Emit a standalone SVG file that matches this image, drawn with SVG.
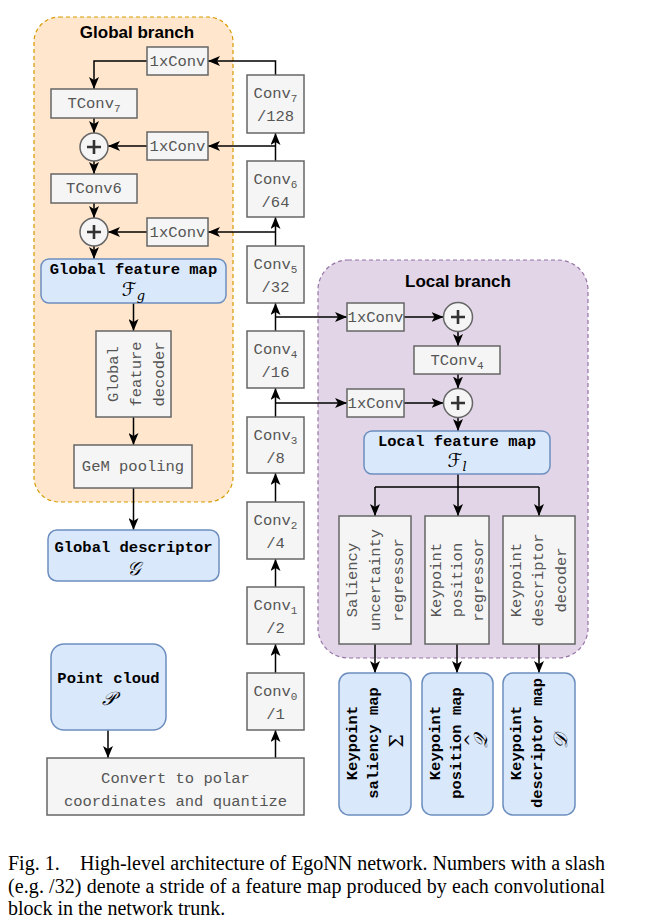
<svg xmlns="http://www.w3.org/2000/svg" width="647" height="924" viewBox="0 0 647 924">
<defs>
<marker id="a" viewBox="0 0 12 10" refX="12" refY="5" markerWidth="12" markerHeight="10" orient="auto" markerUnits="userSpaceOnUse"><path d="M0,0 L12,5 L0,10 L3,5 z" fill="#000"/></marker>
<style>
.g{fill:#f5f5f5;stroke:#666;stroke-width:1.5}
.b{fill:#dae8fc;stroke:#6c8ebf;stroke-width:1.5}
.m{font-family:"Liberation Mono",monospace;font-size:15.5px;fill:#555;text-anchor:middle}
.mb{font-family:"Liberation Mono",monospace;font-size:15.5px;font-weight:bold;fill:#000;text-anchor:middle}
.math{font-family:"DejaVu Serif","DejaVu Sans","Liberation Serif",serif;font-style:italic;font-size:19px;fill:#000;text-anchor:middle}
.t{font-family:"Liberation Sans",Arial,sans-serif;font-size:17px;font-weight:bold;fill:#000;text-anchor:middle}
.e{stroke:#000;stroke-width:1.5;fill:none;marker-end:url(#a)}
.l{stroke:#000;stroke-width:1.5;fill:none}
.p{stroke:#333;stroke-width:2.6;fill:none}
.cap{font-family:"Liberation Serif","Times New Roman",serif;font-size:20px;fill:#000}
</style>
</defs>

<g id="global-branch">
<rect x="34" y="17" width="199" height="485" rx="25" fill="#ffe6cc" stroke="#d79b00" stroke-width="1.2" stroke-dasharray="4 3"/>
<text class="t" x="137" y="38">Global branch</text>
</g>
<g id="local-branch">
<rect x="318" y="260" width="270" height="398" rx="30" fill="#e1d5e7" stroke="#9673a6" stroke-width="1.2" stroke-dasharray="4 3"/>
<text class="t" x="458" y="287">Local branch</text>
</g>

<g id="connectors">
<path class="e" d="M275.5,758 V730"/>
<path class="e" d="M275.5,673 V644"/>
<path class="e" d="M275.5,587 V559"/>
<path class="e" d="M275.5,502 V473"/>
<path class="e" d="M275.5,417 V388"/>
<path class="e" d="M275.5,331 V303"/>
<path class="e" d="M275.5,246 V217"/>
<path class="e" d="M275.5,161 V133"/>
<path class="e" d="M275.5,75 V61 H208"/>
<path class="e" d="M147,61 H94 V89"/>
<path class="e" d="M275.5,146 H208"/>
<path class="e" d="M275.5,232 H208"/>
<path class="e" d="M147,146 H108"/>
<path class="e" d="M147,232 H108"/>
<path class="e" d="M94,118 V133"/>
<path class="e" d="M94,161 V174"/>
<path class="e" d="M94,203 V218"/>
<path class="e" d="M94,246 V259"/>
<path class="e" d="M133.5,303 V331"/>
<path class="e" d="M133.5,417 V445"/>
<path class="e" d="M133.5,488 V530"/>
<path class="e" d="M275.5,317 H347"/>
<path class="e" d="M275.5,403 H347"/>
<path class="e" d="M404,317 H443.5"/>
<path class="e" d="M404,403 H443.5"/>
<path class="e" d="M458,331.5 V346"/>
<path class="e" d="M458,374 V388.5"/>
<path class="e" d="M458,417.5 V431"/>
<path class="e" d="M458,474 V516"/>
<path class="l" d="M375,487 H539"/>
<path class="e" d="M375,487 V516"/>
<path class="e" d="M539,487 V516"/>
<path class="e" d="M375,644 V673"/>
<path class="e" d="M457,644 V673"/>
<path class="e" d="M539,644 V673"/>
<path class="e" d="M108,730 V758"/>
</g>

<g id="gconv1x-a"><rect class="g" x="147" y="47" width="61" height="28"/><text class="m" x="177.5" y="66">1xConv</text></g>
<g id="gconv1x-b"><rect class="g" x="147" y="132" width="61" height="28"/><text class="m" x="177.5" y="151">1xConv</text></g>
<g id="gconv1x-c"><rect class="g" x="147" y="218" width="61" height="28"/><text class="m" x="177.5" y="237">1xConv</text></g>
<g id="tconv7"><rect class="g" x="51" y="89" width="86" height="29"/><text class="m" x="94" y="108">TConv<tspan dy="4" font-size="11">7</tspan></text></g>
<g id="tconv6"><rect class="g" x="51" y="174" width="86" height="29"/><text class="m" x="94" y="193">TConv6</text></g>
<g id="gplus1"><circle class="g" cx="94" cy="147" r="14"/><path class="p" d="M87,147 H101 M94,140 V154"/></g>
<g id="gplus2"><circle class="g" cx="94" cy="232" r="14"/><path class="p" d="M87,232 H101 M94,225 V239"/></g>
<g id="global-feature-map"><rect class="b" x="41" y="259" width="185" height="44" rx="8"/><text class="mb" x="133.5" y="274">Global feature map</text><text class="math" x="133.5" y="296">ℱ<tspan font-size="13" dy="4">g</tspan></text></g>
<g id="global-feature-decoder"><rect class="g" x="96" y="331" width="75" height="86"/>
<text class="m" transform="translate(133.5,374) rotate(-90)"><tspan x="0" y="-16">Global</tspan><tspan x="0" y="7">feature</tspan><tspan x="0" y="30">decoder</tspan></text></g>
<g id="gem-pooling"><rect class="g" x="74" y="445" width="118" height="43"/><text class="m" x="133" y="471">GeM pooling</text></g>
<g id="global-descriptor"><rect class="b" x="48" y="530" width="171" height="51" rx="9"/><text class="mb" x="133.5" y="552">Global descriptor</text><text class="math" x="133.5" y="575">𝒢</text></g>

<g id="conv7"><rect class="g" x="247" y="75" width="57" height="58"/><text class="m" x="275.5" y="98">Conv<tspan dy="4" font-size="11">7</tspan></text><text class="m" x="275.5" y="121">/128</text></g>
<g id="conv6"><rect class="g" x="247" y="161" width="57" height="56"/><text class="m" x="275.5" y="184">Conv<tspan dy="4" font-size="11">6</tspan></text><text class="m" x="275.5" y="207">/64</text></g>
<g id="conv5"><rect class="g" x="247" y="246" width="57" height="57"/><text class="m" x="275.5" y="269">Conv<tspan dy="4" font-size="11">5</tspan></text><text class="m" x="275.5" y="292">/32</text></g>
<g id="conv4"><rect class="g" x="247" y="331" width="57" height="57"/><text class="m" x="275.5" y="354">Conv<tspan dy="4" font-size="11">4</tspan></text><text class="m" x="275.5" y="377">/16</text></g>
<g id="conv3"><rect class="g" x="247" y="417" width="57" height="56"/><text class="m" x="275.5" y="440">Conv<tspan dy="4" font-size="11">3</tspan></text><text class="m" x="275.5" y="463">/8</text></g>
<g id="conv2"><rect class="g" x="247" y="502" width="57" height="57"/><text class="m" x="275.5" y="525">Conv<tspan dy="4" font-size="11">2</tspan></text><text class="m" x="275.5" y="548">/4</text></g>
<g id="conv1"><rect class="g" x="247" y="587" width="57" height="57"/><text class="m" x="275.5" y="610">Conv<tspan dy="4" font-size="11">1</tspan></text><text class="m" x="275.5" y="633">/2</text></g>
<g id="conv0"><rect class="g" x="247" y="673" width="57" height="57"/><text class="m" x="275.5" y="696">Conv<tspan dy="4" font-size="11">0</tspan></text><text class="m" x="275.5" y="719">/1</text></g>

<g id="lconv1x-a"><rect class="g" x="347" y="303" width="57" height="28"/><text class="m" x="375.5" y="322">1xConv</text></g>
<g id="lconv1x-b"><rect class="g" x="347" y="389" width="57" height="28"/><text class="m" x="375.5" y="408">1xConv</text></g>
<g id="lplus1"><circle class="g" cx="458" cy="317" r="14.5"/><path class="p" d="M451,317 H465 M458,310 V324"/></g>
<g id="lplus2"><circle class="g" cx="458" cy="403" r="14.5"/><path class="p" d="M451,403 H465 M458,396 V410"/></g>
<g id="tconv4"><rect class="g" x="414" y="346" width="86" height="28"/><text class="m" x="457" y="365">TConv<tspan dy="4" font-size="11">4</tspan></text></g>
<g id="local-feature-map"><rect class="b" x="364" y="431" width="186" height="43" rx="8"/><text class="mb" x="457" y="446">Local feature map</text><text class="math" x="457" y="467">ℱ<tspan font-size="13" dy="4">l</tspan></text></g>

<g id="saliency-regressor"><rect class="g" x="339" y="516" width="72" height="128"/>
<text class="m" transform="translate(375,580) rotate(-90)"><tspan x="0" y="-18">Saliency</tspan><tspan x="0" y="5">uncertainty</tspan><tspan x="0" y="28">regressor</tspan></text></g>
<g id="position-regressor"><rect class="g" x="425" y="516" width="64" height="128"/>
<text class="m" transform="translate(457,580) rotate(-90)"><tspan x="0" y="-16">Keypoint</tspan><tspan x="0" y="5">position</tspan><tspan x="0" y="26">regressor</tspan></text></g>
<g id="descriptor-decoder"><rect class="g" x="503" y="516" width="72" height="128"/>
<text class="m" transform="translate(539,580) rotate(-90)"><tspan x="0" y="-18">Keypoint</tspan><tspan x="0" y="4">descriptor</tspan><tspan x="0" y="27">decoder</tspan></text></g>

<g id="saliency-map"><rect class="b" x="339" y="673" width="72" height="142" rx="10"/>
<text class="mb" transform="translate(375,743) rotate(-90)"><tspan x="0" y="-18">Keypoint</tspan><tspan x="0" y="3">saliency map</tspan></text>
<text class="math" transform="translate(375,741) rotate(-90)" x="0" y="28" style="font-style:normal">Σ</text></g>
<g id="position-map"><rect class="b" x="422" y="673" width="71" height="142" rx="10"/>
<text class="mb" transform="translate(457.5,743) rotate(-90)"><tspan x="0" y="-18">Keypoint</tspan><tspan x="0" y="3">position map</tspan></text>
<text class="math" transform="translate(457.5,741) rotate(-90)" x="0" y="29">𝒬</text>
<text class="math" transform="translate(457.5,741) rotate(-90)" x="1" y="19" style="font-style:normal;font-size:16px">^</text></g>
<g id="descriptor-map"><rect class="b" x="503" y="673" width="72" height="142" rx="10"/>
<text class="mb" transform="translate(539,743) rotate(-90)"><tspan x="0" y="-18">Keypoint</tspan><tspan x="0" y="3">descriptor map</tspan></text>
<text class="math" transform="translate(539,741) rotate(-90)" x="0" y="28">𝒟</text></g>

<g id="point-cloud"><rect class="b" x="51" y="644" width="115" height="86" rx="13"/><text class="mb" x="108.5" y="683">Point cloud</text><text class="math" x="108.5" y="705">𝒫</text></g>
<g id="convert"><rect class="g" x="47" y="758" width="257" height="57"/><text class="m" x="175.5" y="783">Convert to polar</text><text class="m" x="175.5" y="806">coordinates and quantize</text></g>

<g id="caption">
<text class="cap" x="8" y="870">Fig. 1.</text>
<text class="cap" x="80" y="870" textLength="525" lengthAdjust="spacing">High-level architecture of EgoNN network. Numbers with a slash</text>
<text class="cap" x="8" y="893" textLength="597" lengthAdjust="spacing">(e.g. /32) denote a stride of a feature map produced by each convolutional</text>
<text class="cap" x="8" y="915">block in the network trunk.</text>
</g>
</svg>
